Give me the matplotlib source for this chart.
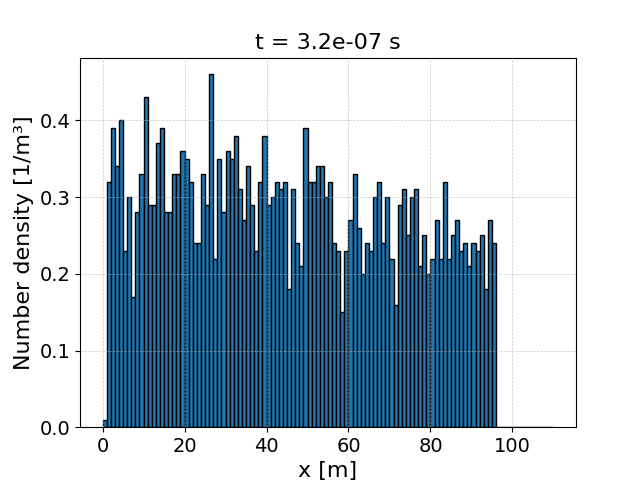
import matplotlib
matplotlib.use("Agg")
import matplotlib.pyplot as plt
import numpy as np

density = [0.01,0.32,0.39,0.34,0.40,0.23,0.30,0.17,0.28,0.33,
           0.43,0.29,0.29,0.37,0.39,0.28,0.28,0.33,0.33,0.36,
           0.35,0.32,0.24,0.24,0.33,0.29,0.46,0.22,0.35,0.28,
           0.36,0.35,0.38,0.31,0.27,0.34,0.29,0.23,0.32,0.38,
           0.29,0.30,0.32,0.31,0.32,0.18,0.31,0.24,0.21,0.39,
           0.32,0.32,0.34,0.34,0.30,0.32,0.24,0.23,0.15,0.23,
           0.27,0.33,0.26,0.20,0.24,0.23,0.30,0.32,0.24,0.30,
           0.22,0.16,0.29,0.31,0.25,0.30,0.31,0.21,0.25,0.20,
           0.22,0.27,0.22,0.32,0.22,0.25,0.27,0.23,0.24,0.21,
           0.24,0.23,0.25,0.18,0.27,0.24] + [0.0]*14
x_edges = np.arange(len(density))

fig, ax = plt.subplots(figsize=(6.4, 4.8), dpi=100)
ax.bar(x_edges, density, width=1.0, align="edge", color="#1f77b4", edgecolor="black", linewidth=1)
ax.set_title("t = 3.2e-07 s", fontsize=16)
ax.set_xlabel("x [m]", fontsize=16)
ax.set_ylabel("Number density [1/m³]", fontsize=16)
ax.tick_params(labelsize=14)
ax.grid(True, linestyle="--", linewidth=0.5, alpha=0.7)
ax.set_axisbelow(False)
ax.set_ylim(0, 0.482)
ax.set_xlim(-5.5, 115.5)
plt.savefig("out.png")
